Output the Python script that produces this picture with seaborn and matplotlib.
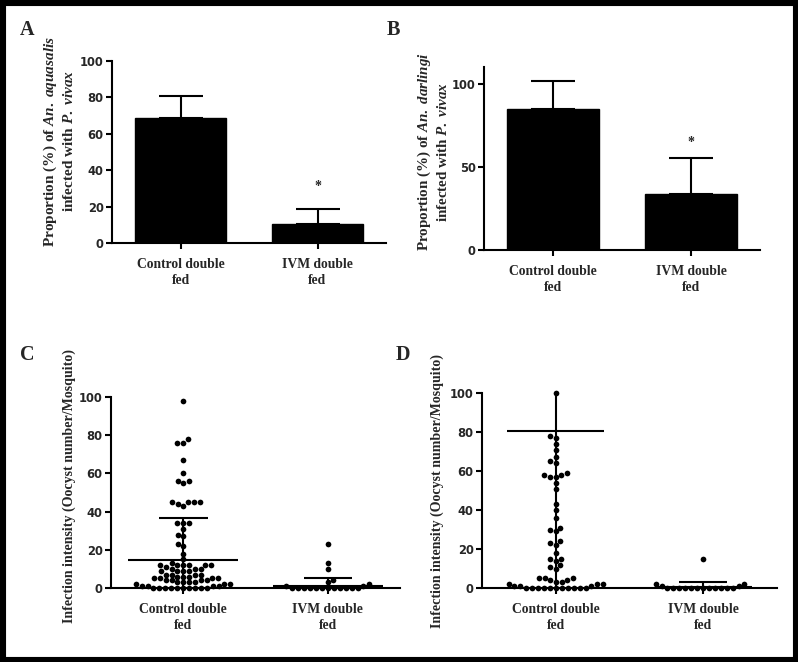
import numpy as np
import pandas as pd
import matplotlib
matplotlib.use("Agg")
import matplotlib.pyplot as plt
import seaborn as sns
from matplotlib.patches import Rectangle

# ---------------- data ----------------
groups = ["Control double\nfed", "IVM double\nfed"]

# Panel A: proportion infected (An. aquasalis)
a_mean = [68.5, 10.5]
a_upper = [81.0, 18.5]
a_star_y = 31

# Panel B: proportion infected (An. darlingi)
b_mean = [85.0, 33.5]
b_upper = [101.6, 55.5]
b_star_y = 65

# Panel C: infection intensity (An. aquasalis)
c_control = [98, 78, 76, 76, 67, 60, 56, 56, 55, 45, 45, 45, 45, 44, 43,
             34, 34, 34, 31, 28, 27, 23, 22, 18, 15, 13, 12, 12, 12, 12, 12,
             12, 11, 10, 10, 10, 9, 9, 9, 9, 7, 7, 7, 7, 6, 6, 6, 5, 5, 5, 5,
             4, 4, 4, 4, 3, 3, 3, 3, 2, 2, 2, 1, 1, 1, 1,
             0, 0, 0, 0, 0, 0, 0, 0, 0, 0]
c_ivm = [23, 13, 10, 4, 3, 2, 1, 1,
         0, 0, 0, 0, 0, 0, 0, 0, 0, 0, 0, 0]
c_center = [14.6, 1.2]
c_top = [36.5, 5.2]
c_cap = [0.17, 0.165]

# Panel D: infection intensity (An. darlingi)
d_control = [100, 78, 77, 74, 71, 67, 65, 64, 59, 58, 58, 57, 57, 54, 51,
             43, 40, 36, 31, 30, 29, 24, 23, 22, 18, 15, 15, 14, 12, 11, 10,
             5, 5, 5, 4, 4, 3, 3, 2, 2, 2, 1, 1, 1,
             0, 0, 0, 0, 0, 0, 0, 0, 0, 0, 0]
d_ivm = [15, 2, 2, 1, 1,
         0, 0, 0, 0, 0, 0, 0, 0, 0, 0, 0, 0]
d_center = [80.3, 0.5]
d_top = [100, 3.1]
d_cap = [0.0, 0.163]

# ---------------- style ----------------
sns.set_theme(style="ticks")
plt.rcParams["font.family"] = ["Liberation Serif", "DejaVu Serif"]
plt.rcParams["mathtext.fontset"] = "custom"
plt.rcParams["mathtext.rm"] = "Liberation Serif:bold"
plt.rcParams["mathtext.bf"] = "Liberation Serif:bold"
plt.rcParams["mathtext.it"] = "Liberation Serif:italic:bold"

W, H = 798, 662
fig = plt.figure(figsize=(W / 100, H / 100), dpi=100)
fig.patch.set_facecolor("white")


def px_axes(left, right, top, bottom):
    return fig.add_axes([left / W, 1 - bottom / H, (right - left) / W, (bottom - top) / H])


axA = px_axes(112, 386, 61, 243)
axB = px_axes(484, 760, 67.4, 250)
axC = px_axes(111, 400, 397, 588)
axD = px_axes(482, 777, 393, 588)

LW = 1.5
num_font = dict(family="DejaVu Sans", weight="bold", size=8.3)
serif_bold = dict(family="Liberation Serif", weight="bold", size=9.8)


def style_axes(ax, yticks, ylim):
    sns.despine(ax=ax)
    for s in ("left", "bottom"):
        ax.spines[s].set_linewidth(LW)
        ax.spines[s].set_color("black")
    ax.set_xlim(-0.5, 1.5)
    ax.set_ylim(*ylim)
    ax.set_yticks(yticks)
    ax.set_yticklabels([str(t) for t in yticks], fontdict=num_font)
    ax.set_xticks([0, 1])
    ax.set_xticklabels(groups, fontdict=serif_bold, linespacing=1.3)
    ax.tick_params(axis="both", direction="out", length=4.5, width=LW, color="black",
                   bottom=True, left=True)
    ax.tick_params(axis="x", pad=6)
    ax.tick_params(axis="y", pad=1.5)
    ax.set_xlabel("")
    ax.set_facecolor("white")


# ---------- Panel A ----------
dfA = pd.DataFrame({"group": groups, "value": a_mean})
sns.barplot(data=dfA, x="group", y="value", color="black", saturation=1,
            width=0.66, errorbar=None, edgecolor="black", ax=axA)
axA.errorbar([0, 1], a_mean, yerr=[[0, 0], np.array(a_upper) - np.array(a_mean)],
             fmt="none", ecolor="black", elinewidth=LW, capsize=16, capthick=LW, zorder=1)
style_axes(axA, [0, 20, 40, 60, 80, 100], (0, 100))
axA.text(1, a_star_y, "*", ha="center", va="center", fontsize=10,
         family="Liberation Serif", weight="bold")
axA.set_ylabel("Proportion (%) of $\\mathit{An.}$ $\\mathit{aquasalis}$\ninfected with $\\mathit{P.}$ $\\mathit{vivax}$",
               fontsize=11, weight="bold", linespacing=1.25, va="center")
axA.yaxis.set_label_coords(-0.193, 0.56)

# ---------- Panel B ----------
dfB = pd.DataFrame({"group": groups, "value": b_mean})
sns.barplot(data=dfB, x="group", y="value", color="black", saturation=1,
            width=0.67, errorbar=None, edgecolor="black", ax=axB)
axB.errorbar([0, 1], b_mean, yerr=[[0, 0], np.array(b_upper) - np.array(b_mean)],
             fmt="none", ecolor="black", elinewidth=LW, capsize=16, capthick=LW, zorder=1)
style_axes(axB, [0, 50, 100], (0, 110))
axB.text(1, b_star_y, "*", ha="center", va="center", fontsize=10,
         family="Liberation Serif", weight="bold")
axB.set_ylabel("Proportion (%) of $\\mathit{An.}$ $\\mathit{darlingi}$\ninfected with $\\mathit{P.}$ $\\mathit{vivax}$",
               fontsize=10.8, weight="bold", linespacing=1.25, va="center")
axB.yaxis.set_label_coords(-0.185, 0.537)


# ---------- Panels C, D ----------
def scatter_panel(ax, ctrl, ivm, center, top, wide, cap):
    df = pd.DataFrame({
        "group": [groups[0]] * len(ctrl) + [groups[1]] * len(ivm),
        "value": ctrl + ivm,
    })
    sns.swarmplot(data=df, x="group", y="value", order=groups, color="black",
                  size=4.1, ax=ax, zorder=3, linewidth=0)
    for coll in ax.collections:
        coll.set_clip_on(False)
    xs = np.arange(len(groups))
    cap = np.asarray(cap)
    ax.vlines(xs, 0, top, color="black", lw=LW, zorder=4)
    ax.hlines(center, xs - wide, xs + wide, color="black", lw=LW, zorder=4)
    keep = cap > 0
    ax.hlines(np.asarray(top)[keep], (xs - cap)[keep], (xs + cap)[keep],
              color="black", lw=LW, zorder=4)
    style_axes(ax, [0, 20, 40, 60, 80, 100], (0, 100))
    ax.set_ylabel("Infection intensity (Oocyst number/Mosquito)", fontsize=10.1,
                  weight="bold", va="center")


scatter_panel(axC, c_control, c_ivm, c_center, c_top, 0.38, c_cap)
axC.yaxis.set_label_coords(-0.145, 0.534)
scatter_panel(axD, d_control, d_ivm, d_center, d_top, 0.33, d_cap)
axD.yaxis.set_label_coords(-0.151, 0.5)

# ---------- panel letters ----------
for letter, x, y in [("A", 20, 35), ("B", 387, 35), ("C", 20, 360), ("D", 396, 360)]:
    fig.text(x / W, 1 - y / H, letter, fontsize=14.5, weight="bold",
             family="Liberation Serif", ha="left", va="baseline")

# ---------- outer frame ----------
fig.patches.append(Rectangle((0, 0), 1, 1, transform=fig.transFigure, fill=False,
                             edgecolor="black", linewidth=8, clip_on=False))

fig.savefig("out.png", dpi=100, facecolor="white")
